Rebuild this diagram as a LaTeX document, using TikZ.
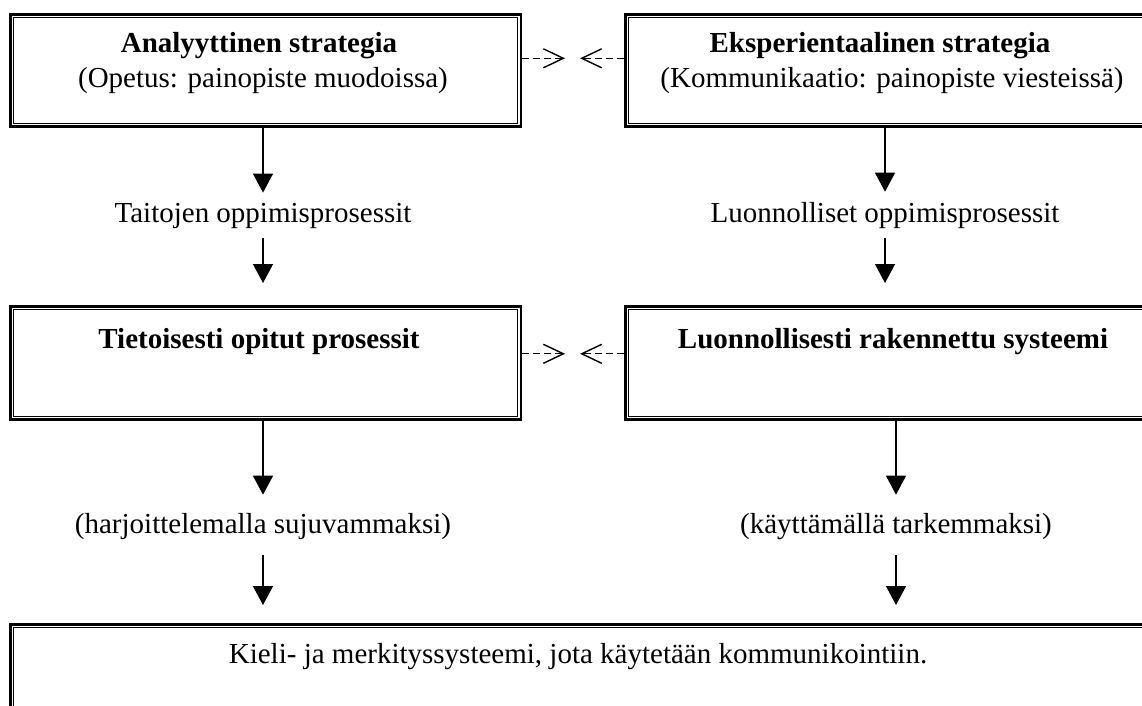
\documentclass[tikz,border=0pt]{standalone}
\usepackage{fontspec}
\setmainfont{Liberation Serif}
\usetikzlibrary{arrows.meta}
\begin{document}
\begin{tikzpicture}[x=1pt,y=-1pt,
  dbox/.style={draw, line width=2.6pt, rectangle, inner sep=0pt, anchor=north west},
  innerline/.style={line width=1.1pt},
  txt/.style={font=\fontsize{29}{34}\selectfont, inner sep=0pt, anchor=base},
  btxt/.style={font=\fontsize{29}{34}\selectfont\bfseries, inner sep=0pt, anchor=base},
  arr/.style={line width=1.3pt, -{Triangle[width=20pt,length=19pt]}},
  darr/.style={line width=1.3pt, dash pattern=on 7pt off 4pt, -{Straight Barb[length=20pt,width=19pt,line width=1.4pt]}}
]
\useasboundingbox (0,0) rectangle (1142,706);
\clip (0,0) rectangle (1142,706);

% boxes
\node[dbox, minimum width=510.5pt, minimum height=112pt] (A) at (9,13) {};
\node[dbox, minimum width=540pt, minimum height=112pt] (B) at (624,13) {};
\node[dbox, minimum width=510.5pt, minimum height=113pt] (C) at (9,305) {};
\node[dbox, minimum width=540pt, minimum height=113pt] (D) at (624,305) {};
\node[dbox, minimum width=1160pt, minimum height=120pt] (E) at (9,623) {};
\foreach \n in {A,B,C,D,E}
  \draw[innerline] ([shift={(4.5pt,-4.5pt)}]\n.north west) rectangle ([shift={(-4.5pt,4.5pt)}]\n.south east);

% texts in boxes
\node[btxt] (tA1) at (259,53) {Analyyttinen strategia};
\node[txt]  (tA2) at (263,88) {(Opetus: painopiste muodoissa)};
\node[btxt] (tB1) at (880,53) {Eksperientaalinen strategia};
\node[txt]  (tB2) at (892,88) {(Kommunikaatio: painopiste viesteissä)};
\node[btxt] (tC) at (259,348) {Tietoisesti opitut prosessit};
\node[btxt] (tD) at (893,348) {Luonnollisesti rakennettu systeemi};
\node[txt]  (tE) at (578,663) {Kieli- ja merkityssysteemi, jota käytetään kommunikointiin.};

% labels
\node[txt] (l1) at (263,222) {Taitojen oppimisprosessit};
\node[txt] (r1) at (885,222) {Luonnolliset oppimisprosessit};
\node[txt] (l2) at (263,533) {(harjoittelemalla sujuvammaksi)};
\node[txt] (r2) at (896,533) {(käyttämällä tarkemmaksi)};

% vertical arrows, left column
\draw[arr, shorten >=10pt] (A.south -| l1.base) -- (l1.north);
\draw[arr, shorten <=10pt, shorten >=22pt] (l1.south) -- (l1.south |- C.north);
\draw[arr, shorten >=18pt] (C.south -| l2.base) -- (l2.north);
\draw[arr, shorten <=22pt, shorten >=18pt] (l2.base) -- (l2.base |- E.north);

% vertical arrows, right column
\draw[arr, shorten >=10pt] (B.south -| r1.base) -- (r1.north);
\draw[arr, shorten <=10pt, shorten >=22pt] (r1.south) -- (r1.south |- D.north);
\draw[arr, shorten >=18pt] (D.south -| r2.base) -- (r2.north);
\draw[arr, shorten <=22pt, shorten >=18pt] (r2.base) -- (r2.base |- E.north);

% dashed arrows between boxes
\draw[darr, shorten >=59pt] ([yshift=12pt]A.east) -- ([yshift=12pt]A.east -| B.west);
\draw[darr, shorten >=58pt] ([yshift=12pt]B.west) -- ([yshift=12pt]B.west -| A.east);
\draw[darr, shorten >=59pt] ([yshift=9pt]C.east) -- ([yshift=9pt]C.east -| D.west);
\draw[darr, shorten >=58pt] ([yshift=9pt]D.west) -- ([yshift=9pt]D.west -| C.east);
\end{tikzpicture}
\end{document}
